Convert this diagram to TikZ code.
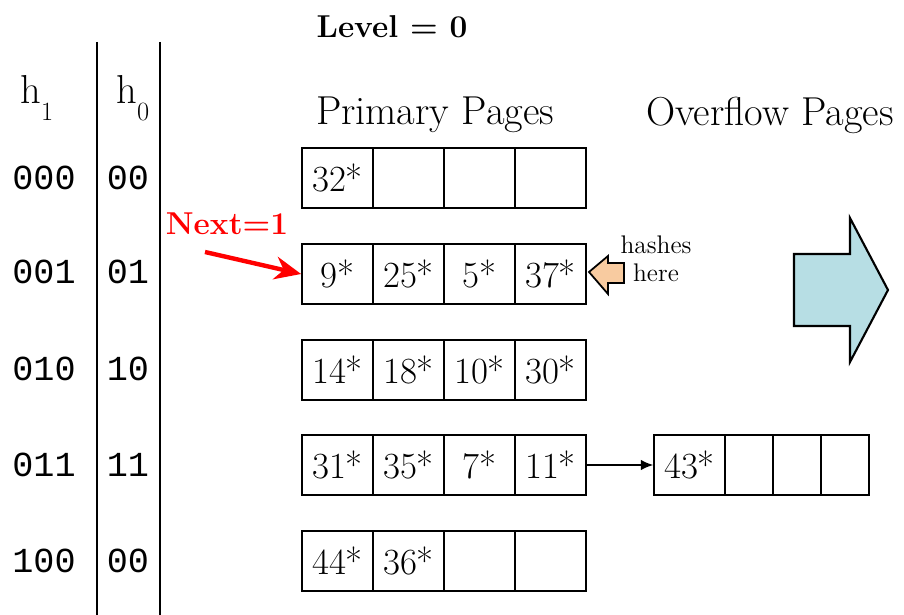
\documentclass[tikz,border=0pt]{standalone}
\usepackage{fontspec}
\setmonofont{Liberation Mono}
\usetikzlibrary{arrows.meta}

\definecolor{hashorange}{RGB}{248,203,160}
\definecolor{splitblue}{RGB}{183,222,228}

\tikzset{
  cell/.style={draw, line width=1pt, minimum width=1.42cm, minimum height=1.2cm,
    inner sep=0pt, font=\fontsize{21}{24}\selectfont},
  ocell/.style={cell, minimum width=0.96cm},
  bits/.style={font=\fontsize{20}{24}\selectfont\ttfamily},
  title/.style={font=\fontsize{23}{27}\selectfont},
}
\newcommand{\hsub}[1]{h\raisebox{-0.4em}{\fontsize{15}{15}\selectfont #1}}

\begin{document}
\begin{tikzpicture}[x=0.02cm,y=-0.02cm]
\useasboundingbox (0,0) rectangle (904,615);
% \draw[step=50,gray,very thin] (0,0) grid (904,615);

% titles
\node[font=\fontsize{18}{22}\selectfont\bfseries] (level) at (392,27) {Level = 0};
\node[title] (primary) at (435,115) {Primary Pages};
\node[title] (overflow) at (770,115) {Overflow Pages};

% hash columns
\draw[line width=1pt] (97,42) -- (97,615);
\draw[line width=1pt] (160,42) -- (160,615);
\node[title, anchor=base west, inner sep=0pt] (h1) at (20,104) {\hsub{1}};
\node[title, anchor=base west, inner sep=0pt] (h0) at (116,104) {\hsub{0}};

\node[bits] (h1-1) at (44,178) {000};
\node[bits] (h0-1) at (128,178) {00};
\node[bits] (h1-2) at (44,272) {001};
\node[bits] (h0-2) at (128,272) {01};
\node[bits] (h1-3) at (44,369) {010};
\node[bits] (h0-3) at (128,369) {10};
\node[bits] (h1-4) at (44,465) {011};
\node[bits] (h0-4) at (128,465) {11};
\node[bits] (h1-5) at (44,561) {100};
\node[bits] (h0-5) at (128,561) {00};

% primary pages
\node[cell] (p1-1) at (337.5,178) {32*};
\node[cell] (p1-2) at (408.5,178) {};
\node[cell] (p1-3) at (479.5,178) {};
\node[cell] (p1-4) at (550.5,178) {};

\node[cell] (p2-1) at (337.5,274) {9*};
\node[cell] (p2-2) at (408.5,274) {25*};
\node[cell] (p2-3) at (479.5,274) {5*};
\node[cell] (p2-4) at (550.5,274) {37*};

\node[cell] (p3-1) at (337.5,370) {14*};
\node[cell] (p3-2) at (408.5,370) {18*};
\node[cell] (p3-3) at (479.5,370) {10*};
\node[cell] (p3-4) at (550.5,370) {30*};

\node[cell] (p4-1) at (337.5,465) {31*};
\node[cell] (p4-2) at (408.5,465) {35*};
\node[cell] (p4-3) at (479.5,465) {7*};
\node[cell] (p4-4) at (550.5,465) {11*};

\node[cell] (p5-1) at (337.5,561) {44*};
\node[cell] (p5-2) at (408.5,561) {36*};
\node[cell] (p5-3) at (479.5,561) {};
\node[cell] (p5-4) at (550.5,561) {};

% overflow page
\node[cell] (o-1) at (689.5,465) {43*};
\node[ocell] (o-2) at (749,465) {};
\node[ocell] (o-3) at (797,465) {};
\node[ocell] (o-4) at (845,465) {};
\draw[line width=0.8pt, -{Latex[length=7pt,width=6pt]}] (p4-4.east) -- (o-1.west);

% next pointer
\node[font=\fontsize{18}{22}\selectfont\bfseries, text=red] (next) at (227,224) {Next=1};
\coordinate (next-tail) at (205,252);
\draw[red, line width=2.5pt, -{Stealth[length=15pt,width=13pt]}] (next-tail) -- (p2-1.west);

% new entry
\draw[line width=1pt, fill=hashorange] (589,272) -- (608,256) -- (608,263) -- (624,263)
    -- (624,283) -- (608,283) -- (608,294) -- cycle;
\node[font=\fontsize{14.5}{16}\selectfont, align=center] (hashes) at (656,259) {hashes\\here};

% split arrow
\draw[line width=1.2pt, fill=splitblue] (794,254) -- (850,254) -- (850,218) -- (888,290)
    -- (850,362) -- (850,326) -- (794,326) -- cycle;

\end{tikzpicture}
\end{document}
